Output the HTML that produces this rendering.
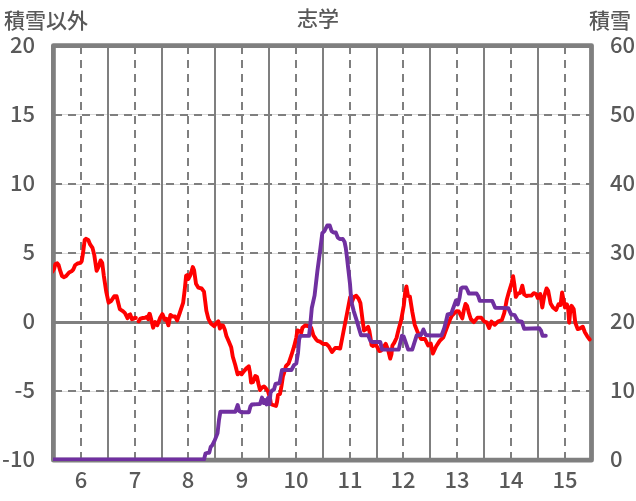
<!DOCTYPE html>
<html><head><meta charset="utf-8"><title>志学</title>
<style>
html,body{margin:0;padding:0;background:#fff;}
body{width:636px;height:501px;overflow:hidden;}
svg{display:block;}
text{font-family:"Noto Sans CJK JP","Liberation Sans",sans-serif;font-size:22px;font-weight:500;fill:#595959;}
text.cjk{font-size:21px;}
</style></head>
<body>
<svg width="636" height="501" viewBox="0 0 636 501">
<rect width="636" height="501" fill="#fff"/>
<line x1="54" y1="114.5" x2="591" y2="114.5" stroke="#dadada" stroke-width="1"/>
<line x1="54" y1="184.5" x2="591" y2="184.5" stroke="#dadada" stroke-width="1"/>
<line x1="54" y1="253.5" x2="591" y2="253.5" stroke="#dadada" stroke-width="1"/>
<line x1="54" y1="391.5" x2="591" y2="391.5" stroke="#dadada" stroke-width="1"/>
<line x1="81" y1="46" x2="81" y2="460" stroke="#7f7f7f" stroke-width="2" stroke-dasharray="8 6"/>
<line x1="108" y1="46" x2="108" y2="460" stroke="#7f7f7f" stroke-width="2"/>
<line x1="135" y1="46" x2="135" y2="460" stroke="#7f7f7f" stroke-width="2" stroke-dasharray="8 6"/>
<line x1="162" y1="46" x2="162" y2="460" stroke="#7f7f7f" stroke-width="2"/>
<line x1="188" y1="46" x2="188" y2="460" stroke="#7f7f7f" stroke-width="2" stroke-dasharray="8 6"/>
<line x1="215" y1="46" x2="215" y2="460" stroke="#7f7f7f" stroke-width="2"/>
<line x1="242" y1="46" x2="242" y2="460" stroke="#7f7f7f" stroke-width="2" stroke-dasharray="8 6"/>
<line x1="269" y1="46" x2="269" y2="460" stroke="#7f7f7f" stroke-width="2"/>
<line x1="296" y1="46" x2="296" y2="460" stroke="#7f7f7f" stroke-width="2" stroke-dasharray="8 6"/>
<line x1="323" y1="46" x2="323" y2="460" stroke="#7f7f7f" stroke-width="2"/>
<line x1="350" y1="46" x2="350" y2="460" stroke="#7f7f7f" stroke-width="2" stroke-dasharray="8 6"/>
<line x1="377" y1="46" x2="377" y2="460" stroke="#7f7f7f" stroke-width="2"/>
<line x1="403" y1="46" x2="403" y2="460" stroke="#7f7f7f" stroke-width="2" stroke-dasharray="8 6"/>
<line x1="430" y1="46" x2="430" y2="460" stroke="#7f7f7f" stroke-width="2"/>
<line x1="457" y1="46" x2="457" y2="460" stroke="#7f7f7f" stroke-width="2" stroke-dasharray="8 6"/>
<line x1="484" y1="46" x2="484" y2="460" stroke="#7f7f7f" stroke-width="2"/>
<line x1="511" y1="46" x2="511" y2="460" stroke="#7f7f7f" stroke-width="2" stroke-dasharray="8 6"/>
<line x1="538" y1="46" x2="538" y2="460" stroke="#7f7f7f" stroke-width="2"/>
<line x1="565" y1="46" x2="565" y2="460" stroke="#7f7f7f" stroke-width="2" stroke-dasharray="8 6"/>
<line x1="54" y1="115.0" x2="591" y2="115.0" stroke="#7f7f7f" stroke-width="2" stroke-dasharray="8 6"/>
<line x1="54" y1="184.0" x2="591" y2="184.0" stroke="#7f7f7f" stroke-width="2" stroke-dasharray="8 6"/>
<line x1="54" y1="253.0" x2="591" y2="253.0" stroke="#7f7f7f" stroke-width="2" stroke-dasharray="8 6"/>
<line x1="54" y1="391.0" x2="591" y2="391.0" stroke="#7f7f7f" stroke-width="2" stroke-dasharray="8 6"/>
<line x1="54" y1="322.5" x2="591" y2="322.5" stroke="#7f7f7f" stroke-width="3"/>
<rect x="53.4" y="45.6" width="538.10" height="414.60" fill="none" stroke="#7f7f7f" stroke-width="4.8" stroke-linejoin="round"/>
<clipPath id="pc"><rect x="53" y="40" width="540" height="421"/></clipPath><g clip-path="url(#pc)">
<polyline points="52.5,271.5 54.2,268.5 55.4,264.0 57.2,263.3 58.6,265.0 60.2,270.7 62.0,276.0 64.1,277.2 66.1,276.0 69.1,272.5 71.5,271.3 73.3,269.5 75.1,265.3 77.5,263.5 80.5,262.9 81.7,261.1 82.9,253.9 84.7,240.0 85.9,238.8 88.3,240.0 90.1,244.4 92.5,247.9 94.3,255.1 96.6,270.8 98.2,267.6 100.6,260.4 102.2,262.8 103.8,275.6 106.2,291.5 108.6,302.7 111.0,301.1 114.2,296.3 116.6,296.3 118.2,302.7 119.8,309.1 122.4,310.8 124.8,312.9 126.6,316.2 127.5,318.3 129.0,315.0 130.2,314.4 132.0,319.2 133.2,318.9 134.7,317.7 135.8,318.0" fill="none" stroke="#ff0000" stroke-width="3.9" stroke-linejoin="round" stroke-linecap="round"/>
<polyline points="138.6,321.3 140.4,318.6 142.8,318.0 145.1,317.7 146.9,316.8 148.1,319.2 149.3,313.8 149.9,314.1 151.5,320.5 153.1,327.7 155.2,322.1 157.3,325.3 160.0,318.1 162.4,314.1 164.8,319.7 166.4,318.9 168.4,325.3 170.4,314.9 172.7,316.5 175.1,316.5 177.1,320.5 179.9,312.5 183.1,302.9 184.7,290.1 186.1,275.8 187.2,275.0 188.3,279.0 190.4,275.0 192.8,267.0 194.1,270.2 196.0,283.8 198.4,287.7 201.6,288.5 204.0,291.7 205.2,301.3 206.4,310.9 208.4,318.9 211.1,323.7 214.3,326.1 216.4,322.9 218.3,321.3 219.9,328.5 221.9,325.3 223.2,325.6 224.8,329.6 226.4,336.0 228.8,341.6 231.2,347.2 232.8,356.7 235.2,364.7 237.6,374.3 240.0,372.7 241.6,374.3 244.0,371.1 246.8,367.9 248.8,366.3 250.0,372.7 251.1,382.5 253.0,382.0 255.3,376.0 257.0,377.0 258.5,384.0 260.0,390.0 262.0,387.5 264.0,386.5 266.0,388.5 268.0,391.5 270.0,398.0 271.0,404.0 273.0,405.0 276.0,406.0 277.0,402.0 278.0,395.0 280.0,394.0 281.5,386.0 283.0,376.0 284.2,372.5 285.9,366.2 288.6,363.4 291.4,355.2 294.1,346.4 296.3,337.6 297.4,330.4 299.1,331.0 301.3,332.6 302.4,327.7 305.1,325.5 307.9,326.0 311.2,327.7 313.4,335.4 316.0,339.2 317.4,340.8 320.0,341.6 323.2,344.0 326.4,344.0 328.8,346.4 332.0,352.0 335.2,348.0 337.5,348.0 340.2,348.5 343.4,332.0 347.2,312.5 349.0,303.0 350.2,297.0 352.0,301.8 353.8,297.0 356.2,295.8 358.6,298.8 360.4,303.0 361.6,312.5 362.8,322.1 364.0,330.5 365.7,329.3 368.1,326.9 369.3,330.5 370.5,337.7 371.5,345.0 373.1,346.0 375.4,344.2 377.2,347.0 379.4,351.0 381.2,350.5 383.5,347.0 385.7,343.8 388.0,349.6 390.2,358.6 391.5,354.1 392.4,345.5 394.2,342.9 396.5,338.0 398.7,329.0 401.0,320.9 403.8,305.5 405.1,292.8 406.4,286.4 408.0,296.0 409.9,296.7 412.3,311.9 414.7,324.7 417.8,332.6 421.0,339.0 425.0,339.0 428.1,345.4 430.8,343.6 432.9,353.5 436.2,346.3 439.7,340.9 443.3,337.3 446.9,327.5 449.6,320.3 452.0,315.5 454.4,313.1 456.8,311.1 458.8,311.5 460.8,315.5 462.3,318.5 463.9,309.9 465.5,303.9 467.1,306.0 468.7,312.3 470.8,319.0 473.9,322.1 477.5,317.6 481.2,317.6 484.4,321.6 486.7,322.4 489.1,328.0 491.5,321.6 494.7,324.8 497.9,321.6 501.9,320.0 504.3,312.8 506.7,300.1 509.1,291.3 511.8,282.5 513.1,276.2 514.3,284.1 515.8,296.9 517.8,293.7 520.2,292.9 522.3,285.7 524.2,294.5 526.6,296.1 528.2,295.6 531.4,295.6 533.8,293.2 536.2,294.0 537.8,298.0 540.2,294.0 542.3,307.5 544.2,296.4 546.6,288.4 548.2,290.8 550.6,303.5 553.0,307.5 556.1,309.9 558.5,304.3 560.5,305.1 562.1,292.4 563.7,301.2 564.9,307.5 566.9,304.3 568.1,308.3 569.2,322.7 570.5,308.3 571.6,305.9 573.7,309.1 575.3,322.7 577.7,329.1 580.1,328.3 582.8,326.7 584.9,332.3 587.3,336.3 589.7,339.5" fill="none" stroke="#ff0000" stroke-width="3.9" stroke-linejoin="round" stroke-linecap="round"/>
<polyline points="52.0,459.5 204.0,459.5 205.5,453.6 207.0,452.9 209.2,452.9 210.7,446.9 212.2,445.4 214.5,440.9 217.5,433.4 219.0,419.9 220.4,411.7 235.4,411.7 237.7,405.0 239.2,411.0 241.4,412.2 248.9,412.2 250.4,406.5 251.9,404.5 260.0,404.0 262.0,397.5 263.5,403.0 265.0,400.0 266.5,404.5 268.0,398.0 269.5,404.0 270.5,393.0 272.0,390.5 274.0,389.5 275.5,384.0 279.5,383.0 281.0,375.0 282.0,370.0 291.4,370.0 294.1,365.0 296.3,363.4 298.0,353.0 299.1,339.8 300.2,335.9 309.0,335.9 310.1,326.6 311.8,308.0 314.6,295.4 317.4,271.0 320.2,250.0 322.3,233.2 324.4,231.1 327.2,225.5 329.7,225.5 331.6,231.1 333.5,232.5 335.8,232.5 337.7,237.4 339.8,239.1 342.8,239.0 344.6,242.0 345.8,248.0 347.0,257.5 348.2,268.3 350.0,283.9 350.8,294.6 352.0,304.2 353.8,311.3 356.8,320.9 359.2,329.3 361.0,335.3 368.1,335.3 370.5,341.0 372.3,342.0 380.3,342.0 382.1,349.6 398.7,349.6 401.9,335.7 403.7,336.6 408.2,349.6 412.2,349.6 416.7,335.3 421.0,335.0 423.4,329.4 425.8,335.0 430.8,335.5 441.5,335.5 444.2,328.3 446.0,321.5 447.6,314.5 451.2,313.6 456.0,300.5 457.8,304.5 459.6,297.5 461.0,288.4 462.5,287.5 466.1,287.5 467.6,290.5 468.8,293.5 476.6,293.5 478.3,296.2 479.8,300.8 492.3,300.9 495.2,307.7 508.3,308.1 511.1,314.4 514.7,315.2 517.8,320.8 521.8,321.6 524.2,328.8 539.4,328.3 541.0,330.7 542.6,335.8 545.8,335.8" fill="none" stroke="#7030a0" stroke-width="3.9" stroke-linejoin="round" stroke-linecap="round"/>
</g>
<text x="35" y="53.1" text-anchor="end">20</text>
<text x="35" y="122.1" text-anchor="end">15</text>
<text x="35" y="191.1" text-anchor="end">10</text>
<text x="35" y="260.0" text-anchor="end">5</text>
<text x="35" y="329.0" text-anchor="end">0</text>
<text x="35" y="398.0" text-anchor="end">-5</text>
<text x="35" y="467.0" text-anchor="end">-10</text>
<text x="610" y="53.1">60</text>
<text x="610" y="122.1">50</text>
<text x="610" y="191.1">40</text>
<text x="610" y="260.0">30</text>
<text x="610" y="329.0">20</text>
<text x="610" y="398.0">10</text>
<text x="610" y="467.0">0</text>
<text x="81" y="487.6" text-anchor="middle">6</text>
<text x="135" y="487.6" text-anchor="middle">7</text>
<text x="188" y="487.6" text-anchor="middle">8</text>
<text x="242" y="487.6" text-anchor="middle">9</text>
<text x="296" y="487.6" text-anchor="middle">10</text>
<text x="350" y="487.6" text-anchor="middle">11</text>
<text x="403" y="487.6" text-anchor="middle">12</text>
<text x="457" y="487.6" text-anchor="middle">13</text>
<text x="511" y="487.6" text-anchor="middle">14</text>
<text x="565" y="487.6" text-anchor="middle">15</text>
<text x="4" y="28" class="cjk">積雪以外</text>
<text x="318" y="26" text-anchor="middle" class="cjk">志学</text>
<text x="631" y="28" text-anchor="end" class="cjk">積雪</text>
</svg>
</body></html>
